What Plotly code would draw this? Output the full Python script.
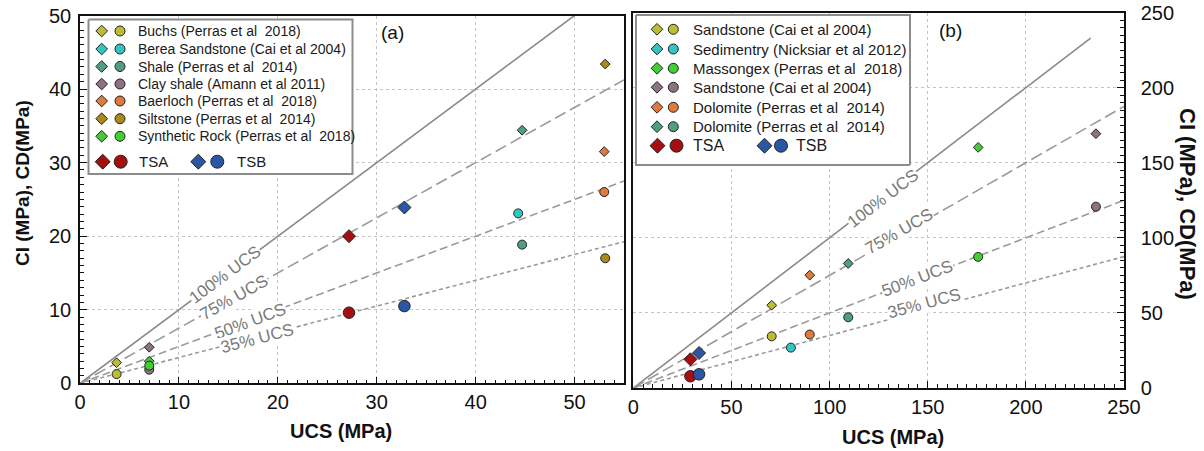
import plotly.graph_objects as go

W, H = 1204, 451
FONT = "Liberation Sans, Arial, sans-serif"

# ---------------- data: panel (a) ----------------
a_names = ["Buchs (Perras et al\u00a0 2018)", "Berea Sandstone (Cai et al 2004)",
           "Shale (Perras et al\u00a0 2014)", "Clay shale (Amann et al 2011)",
           "Baerloch (Perras et al\u00a0 2018)", "Siltstone (Perras et al\u00a0 2014)",
           "Synthetic Rock (Perras et al\u00a0 2018)"]
a_colors = ["#bcbd35", "#33c6c0", "#4f9e7d", "#8c7282", "#e07a3c", "#a88b1c", "#44cc33"]
a_ucs = [3.7, 44.3, 44.7, 7.0, 53.0, 53.1, 7.0]
a_cd = [2.8, None, 34.4, 4.9, 31.5, 43.4, 3.0]
a_ci = [1.25, 23.1, 18.85, 1.85, 26.0, 17.0, 2.4]
a_tsa = {"ucs": 27.2, "cd": 20.0, "ci": 9.6}
a_tsb = {"ucs": 32.8, "cd": 23.9, "ci": 10.5}

# ---------------- data: panel (b) ----------------
b_names = ["Sandstone (Cai et al 2004)", "Sedimentry (Nicksiar et al 2012)",
           "Massongex (Perras et al\u00a0 2018)", "Sandstone (Cai et al 2004)",
           "Dolomite (Perras et al\u00a0 2014)", "Dolomite (Perras et al\u00a0 2014)"]
b_colors = ["#bcbd35", "#33c6c0", "#44cc33", "#8c7282", "#e07a3c", "#4f9e7d"]
b_ucs = [70.5, 80.3, 175.7, 235.7, 89.9, 109.5]
b_cd = [55.1, None, 160.2, 169.3, 75.1, 82.9]
b_ci = [34.4, 26.9, 87.3, 120.7, 35.6, 47.1]
b_tsa = {"ucs": 29.1, "cd": 19.1, "ci": 7.8}
b_tsb = {"ucs": 33.5, "cd": 23.3, "ci": 9.1}

TSA_COLOR, TSB_COLOR = "#a50f0f", "#2b56a3"

# reference lines (fraction of UCS) and labels
ref_fracs = [1.0, 0.75, 0.5, 0.35]
ref_labels = ["100% UCS", "75% UCS", "50% UCS", "35% UCS"]
ref_dash = ["solid", "12px,5px", "8px,4px", "4px,3px"]
ref_color = ["#8a8a8a", "#9a9a9a", "#9a9a9a", "#9a9a9a"]
a_ref_end = [55, 55, 55, 55]
b_ref_end = [233, 250, 250, 250]
a_label_x = [14.7, 15.6, 17.2, 17.9]
a_label_y = [14.8, 11.6, 8.4, 6.1]
b_label_x = [127.3, 135.5, 144.8, 148.4]
b_label_y = [126.2, 104.0, 72.9, 56.0]

fig = go.Figure()

def px(x):
    return x / W

def py(y):
    return 1 - y / H

# reference lines
for xa, ya, ends in (("x", "y", a_ref_end), ("x2", "y2", b_ref_end)):
    for f, e, d, c in zip(ref_fracs, ends, ref_dash, ref_color):
        fig.add_trace(go.Scatter(x=[0, e], y=[0, f * e], mode="lines",
                                 line=dict(color=c, width=1.6, dash=d),
                                 xaxis=xa, yaxis=ya, showlegend=False, hoverinfo="skip"))

def add_points(xa, ya, ucs, cd, ci, colors, tsa, tsb, dsize, csize, bsize_d, bsize_c):
    for u, d, i, col in zip(ucs, cd, ci, colors):
        if d is not None:
            fig.add_trace(go.Scatter(x=[u], y=[d], mode="markers", xaxis=xa, yaxis=ya,
                                     marker=dict(symbol="diamond", size=dsize, color=col,
                                                 line=dict(color="#222", width=1)),
                                     showlegend=False))
        fig.add_trace(go.Scatter(x=[u], y=[i], mode="markers", xaxis=xa, yaxis=ya,
                                 marker=dict(symbol="circle", size=csize, color=col,
                                             line=dict(color="#222", width=1)),
                                 showlegend=False))
    for t, col in ((tsa, TSA_COLOR), (tsb, TSB_COLOR)):
        fig.add_trace(go.Scatter(x=[t["ucs"]], y=[t["cd"]], mode="markers", xaxis=xa, yaxis=ya,
                                 marker=dict(symbol="diamond", size=bsize_d, color=col,
                                             line=dict(color="#222", width=1)),
                                 showlegend=False))
        fig.add_trace(go.Scatter(x=[t["ucs"]], y=[t["ci"]], mode="markers", xaxis=xa, yaxis=ya,
                                 marker=dict(symbol="circle", size=bsize_c, color=col,
                                             line=dict(color="#222", width=1)),
                                 showlegend=False))

add_points("x", "y", a_ucs, a_cd, a_ci, a_colors, a_tsa, a_tsb, 7.5, 9, 10, 11.5)
add_points("x2", "y2", b_ucs, b_cd, b_ci, b_colors, b_tsa, b_tsb, 7.5, 9, 10, 11.5)

# ---------------- manual legends on an overlay pixel axis ----------------
def legend(box, rows_y, dx, cx, tx, names, colors, tsa_row, fs):
    x0, y0, x1, y1 = box
    fig.add_trace(go.Scatter(x=[x0, x1, x1, x0, x0], y=[y0, y0, y1, y1, y0], mode="lines",
                             fill="toself", fillcolor="white",
                             line=dict(color="#8c8c8c", width=2),
                             xaxis="x3", yaxis="y3", showlegend=False, hoverinfo="skip"))
    fig.add_trace(go.Scatter(x=[dx] * len(names), y=rows_y, mode="markers",
                             marker=dict(symbol="diamond", size=9, color=colors,
                                         line=dict(color="#222", width=1)),
                             xaxis="x3", yaxis="y3", showlegend=False, hoverinfo="skip"))
    fig.add_trace(go.Scatter(x=[cx] * len(names), y=rows_y, mode="markers",
                             marker=dict(symbol="circle", size=10, color=colors,
                                         line=dict(color="#222", width=1)),
                             xaxis="x3", yaxis="y3", showlegend=False, hoverinfo="skip"))
    for n, yy in zip(names, rows_y):
        fig.add_annotation(x=px(tx), y=py(yy), xref="paper", yref="paper", text=n,
                           showarrow=False, xanchor="left", yanchor="middle",
                           font=dict(family=FONT, size=fs, color="#1a1a1a"))
    (tyy, tsa_d, tsa_c, tsa_t, tsb_d, tsb_c, tsb_t) = tsa_row
    fig.add_trace(go.Scatter(x=[tsa_d, tsb_d], y=[tyy, tyy], mode="markers",
                             marker=dict(symbol="diamond", size=11.5, color=[TSA_COLOR, TSB_COLOR],
                                         line=dict(color="#222", width=1)),
                             xaxis="x3", yaxis="y3", showlegend=False, hoverinfo="skip"))
    fig.add_trace(go.Scatter(x=[tsa_c, tsb_c], y=[tyy, tyy], mode="markers",
                             marker=dict(symbol="circle", size=13, color=[TSA_COLOR, TSB_COLOR],
                                         line=dict(color="#222", width=1)),
                             xaxis="x3", yaxis="y3", showlegend=False, hoverinfo="skip"))
    for t, xx in (("TSA", tsa_t), ("TSB", tsb_t)):
        fig.add_annotation(x=px(xx), y=py(tyy), xref="paper", yref="paper", text=t,
                           showarrow=False, xanchor="left", yanchor="middle",
                           font=dict(family=FONT, size=fs + 1, color="#1a1a1a"))

legend((88.5, 19.5, 352.5, 174), [31, 49, 66.5, 84, 101, 118.7, 136.3], 101.7, 120, 136,
       a_names, a_colors, (161.7, 102.7, 120.7, 136.5, 198.3, 217.3, 235), 14)
legend((636, 15, 910, 165), [29.3, 49, 68.3, 87.3, 107.3, 126.7], 657, 673.3, 691,
       b_names, b_colors, (145.7, 657.5, 676.5, 691, 764.5, 781, 794), 15)

# ---------------- line labels ----------------
for xa, ya, lx, ly, angs in (("x", "y", a_label_x, a_label_y, [36.7, 29.2, 20.4, 14.6]),
                             ("x2", "y2", b_label_x, b_label_y, [37.4, 29.8, 20.9, 15.0])):
    for t, xx, yy, an in zip(ref_labels, lx, ly, angs):
        fig.add_annotation(x=xx, y=yy, xref=xa, yref=ya, text=t, showarrow=False,
                           textangle=-an, bgcolor="white", borderpad=0,
                           xanchor="center", yanchor="middle",
                           font=dict(family=FONT, size=17, color="#7a7a7a"))

def ptext(x, y, text, size, angle=0):
    fig.add_annotation(x=px(x), y=py(y), xref="paper", yref="paper", text=text,
                       showarrow=False, textangle=angle, xanchor="center", yanchor="middle",
                       font=dict(family=FONT, size=size, color="#111"))

# panel tags
ptext(392, 33, "(a)", 19)
ptext(950, 30, "(b)", 19)

# axis titles
ptext(341, 431, "<b>UCS (MPa)</b>", 20)
ptext(893, 437, "<b>UCS (MPa)</b>", 20)
ptext(22, 183, "<b>CI (MPa), CD(MPa)</b>", 19, -90)
ptext(1188, 204, "<b>CI (MPa), CD(MPa)</b>", 22, 90)

common = dict(showline=True, linecolor="#111", linewidth=1.5, mirror=True, zeroline=False,
              ticks="inside", ticklen=7, tickwidth=1.2, tickcolor="#111",
              showgrid=True, gridcolor="#c4c4c4", griddash="dot", gridwidth=1,
              tickfont=dict(family=FONT, size=20, color="#111"), fixedrange=True,
              automargin=False, layer="above traces")

fig.update_layout(
    width=W, height=H, margin=dict(l=0, r=0, t=0, b=0, autoexpand=False),
    paper_bgcolor="white", plot_bgcolor="rgba(0,0,0,0)", showlegend=False,
    xaxis=dict(domain=[px(80), px(624)], range=[0, 55], dtick=10, tick0=0, anchor="y",
               minor=dict(ticks="inside", dtick=1, ticklen=4, tickcolor="#111", showgrid=False),
               **common),
    yaxis=dict(domain=[py(383.3), py(15.5)], range=[0, 50], dtick=10, tick0=0, anchor="x",
               ticklabelstandoff=3,
               minor=dict(ticks="inside", dtick=1, ticklen=4, tickcolor="#111", showgrid=False),
               **common),
    xaxis2=dict(domain=[px(633.3), px(1124)], range=[0, 250], dtick=50, tick0=0, anchor="y2",
                minor=dict(ticks="inside", dtick=5, ticklen=4, tickcolor="#111", showgrid=False),
                **common),
    yaxis2=dict(domain=[py(388), py(12.5)], range=[0, 250], dtick=50, tick0=0, anchor="x2",
                side="right", ticklabelstandoff=11,
                minor=dict(ticks="inside", dtick=5, ticklen=4, tickcolor="#111", showgrid=False),
                **common),
    xaxis3=dict(domain=[0, 1], range=[0, W], visible=False, anchor="y3", fixedrange=True,
                automargin=False),
    yaxis3=dict(domain=[0, 1], range=[H, 0], visible=False, anchor="x3", fixedrange=True,
                automargin=False),
)

fig.write_html("out.html")
